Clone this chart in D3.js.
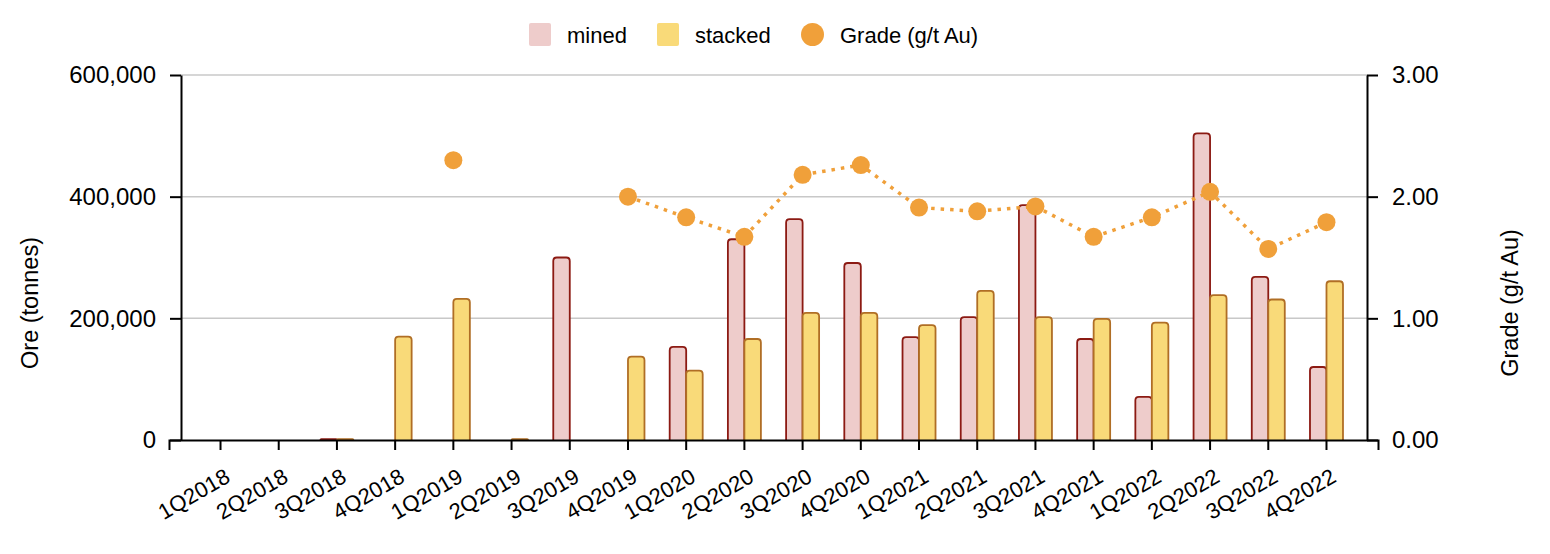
<!DOCTYPE html>
<html>
<head>
<meta charset="utf-8">
<script src="https://cdn.jsdelivr.net/npm/d3@7"></script>
<style>
  body { margin: 0; background: #fff; }
  svg { font-family: "Liberation Sans", Arial, sans-serif; }
  .axis path, .axis line { stroke: #000; stroke-width: 2; }
  .axis text { font-size: 24px; fill: #000; }
</style>
</head>
<body>
<svg id="chart" width="1550" height="554"></svg>
<script>
const quarters = ['1Q2018', '2Q2018', '3Q2018', '4Q2018', '1Q2019', '2Q2019', '3Q2019', '4Q2019',
  '1Q2020', '2Q2020', '3Q2020', '4Q2020', '1Q2021', '2Q2021', '3Q2021', '4Q2021',
  '1Q2022', '2Q2022', '3Q2022', '4Q2022'];
const mined = [0, 0, 1500, 0, 0, 0, 300000, 0,
  153000, 330000, 363000, 291000, 169000, 202000, 386000, 166000,
  71000, 504000, 268000, 120000];
const stacked = [0, 0, 1500, 170000, 232000, 1500, 0, 137000,
  114000, 166000, 209000, 209000, 189000, 245000, 202000, 199000,
  193000, 238000, 231000, 261000];
const grade = [null, null, null, null, 2.30, null, null, 2.00,
  1.83, 1.67, 2.18, 2.26, 1.91, 1.88, 1.92, 1.67,
  1.83, 2.04, 1.57, 1.79];
const oreTicks = [0, 200000, 400000, 600000];
const gradeTicks = [0, 1, 2, 3];

const minedFill = '#eecccb', minedStroke = '#8c1a13';
const stackedFill = '#f9da79', stackedStroke = '#b06e25';
const gradeColor = '#f0a03a';

const svg = d3.select('#chart');
const plotLeft = 181, plotRight = 1367, plotTop = 75, plotBottom = 440;

const x = d3.scaleBand().domain(quarters).range([169, 1378]).paddingInner(0).paddingOuter(0.385);
const yOre = d3.scaleLinear().domain([0, 600000]).range([plotBottom, plotTop]);
const yGrade = d3.scaleLinear().domain([0, 3]).range([plotBottom, plotTop]);
const barW = 16.5;

function center(q) { return x(q) + x.bandwidth() / 2; }

function topRounded(x0, y0, w, h, r) {
  r = Math.min(r, h, w / 2);
  return 'M' + x0 + ',' + (y0 + h) +
    'V' + (y0 + r) +
    'Q' + x0 + ',' + y0 + ' ' + (x0 + r) + ',' + y0 +
    'H' + (x0 + w - r) +
    'Q' + (x0 + w) + ',' + y0 + ' ' + (x0 + w) + ',' + (y0 + r) +
    'V' + (y0 + h);
}

// grid
svg.append('g')
  .selectAll('line')
  .data(oreTicks.filter(d => d > 0))
  .join('line')
    .attr('x1', plotLeft).attr('x2', plotRight)
    .attr('y1', d => yOre(d)).attr('y2', d => yOre(d))
    .attr('stroke', '#c8c8c8').attr('stroke-width', 1.5);

// bars
const barData = [];
quarters.forEach(function(q, i) {
  if (mined[i] > 0) barData.push({ q: q, v: mined[i], off: -barW, fill: minedFill, stroke: minedStroke });
  if (stacked[i] > 0) barData.push({ q: q, v: stacked[i], off: 0, fill: stackedFill, stroke: stackedStroke });
});
svg.append('g')
  .selectAll('path')
  .data(barData)
  .join('path')
    .attr('d', d => topRounded(center(d.q) + d.off, yOre(d.v), barW, plotBottom - yOre(d.v), 3.5))
    .attr('fill', d => d.fill)
    .attr('stroke', d => d.stroke)
    .attr('stroke-width', 1.8);

// axes
svg.append('g')
  .attr('class', 'axis')
  .attr('transform', 'translate(0,' + plotBottom + ')')
  .call(d3.axisBottom(x).tickSizeOuter(0).tickSize(10))
  .call(g => g.selectAll('text')
    .style('font-size', '22px')
    .attr('text-anchor', 'end')
    .attr('x', 0).attr('y', 0).attr('dy', 0)
    .attr('transform', 'translate(11,41) rotate(-30)'));

svg.append('g')
  .attr('class', 'axis')
  .attr('transform', 'translate(' + plotLeft + ',0)')
  .call(d3.axisLeft(yOre).tickValues(oreTicks).tickFormat(d3.format(',')).tickSize(11).tickSizeOuter(0).tickPadding(14));

svg.append('g')
  .attr('class', 'axis')
  .attr('transform', 'translate(' + plotRight + ',0)')
  .call(d3.axisRight(yGrade).tickValues(gradeTicks).tickFormat(d3.format('.2f')).tickSize(11).tickSizeOuter(0).tickPadding(14));

// axis titles
svg.append('text')
  .attr('transform', 'translate(38,303) rotate(-90)')
  .attr('text-anchor', 'middle')
  .style('font-size', '23.5px')
  .text('Ore (tonnes)');
svg.append('text')
  .attr('transform', 'translate(1518,303) rotate(-90)')
  .attr('text-anchor', 'middle')
  .style('font-size', '23.5px')
  .text('Grade (g/t Au)');

// grade line
const gradePts = quarters.map((q, i) => ({ q: q, g: grade[i] })).filter(d => d.g !== null);
const line = d3.line()
  .defined(d => d.g !== null)
  .x(d => center(d.q))
  .y(d => yGrade(d.g));
svg.append('path')
  .datum(quarters.map((q, i) => ({ q: q, g: grade[i] })))
  .attr('d', line)
  .attr('fill', 'none')
  .attr('stroke', gradeColor)
  .attr('stroke-width', 3.5)
  .attr('stroke-dasharray', '3.5,6');
svg.append('g')
  .selectAll('circle')
  .data(gradePts)
  .join('circle')
    .attr('cx', d => center(d.q))
    .attr('cy', d => yGrade(d.g))
    .attr('r', 9)
    .attr('fill', gradeColor);

// legend
const legend = svg.append('g').style('font-size', '22px');
legend.append('rect').attr('x', 529).attr('y', 23).attr('width', 22).attr('height', 23).attr('rx', 2).attr('fill', minedFill);
legend.append('text').attr('x', 567).attr('y', 42.5).text('mined');
legend.append('rect').attr('x', 657).attr('y', 23).attr('width', 22).attr('height', 23).attr('rx', 2).attr('fill', stackedFill);
legend.append('text').attr('x', 695).attr('y', 42.5).text('stacked');
legend.append('circle').attr('cx', 812.5).attr('cy', 34.5).attr('r', 11.5).attr('fill', gradeColor);
legend.append('text').attr('x', 840).attr('y', 42.5).text('Grade (g/t Au)');
</script>
</body>
</html>
